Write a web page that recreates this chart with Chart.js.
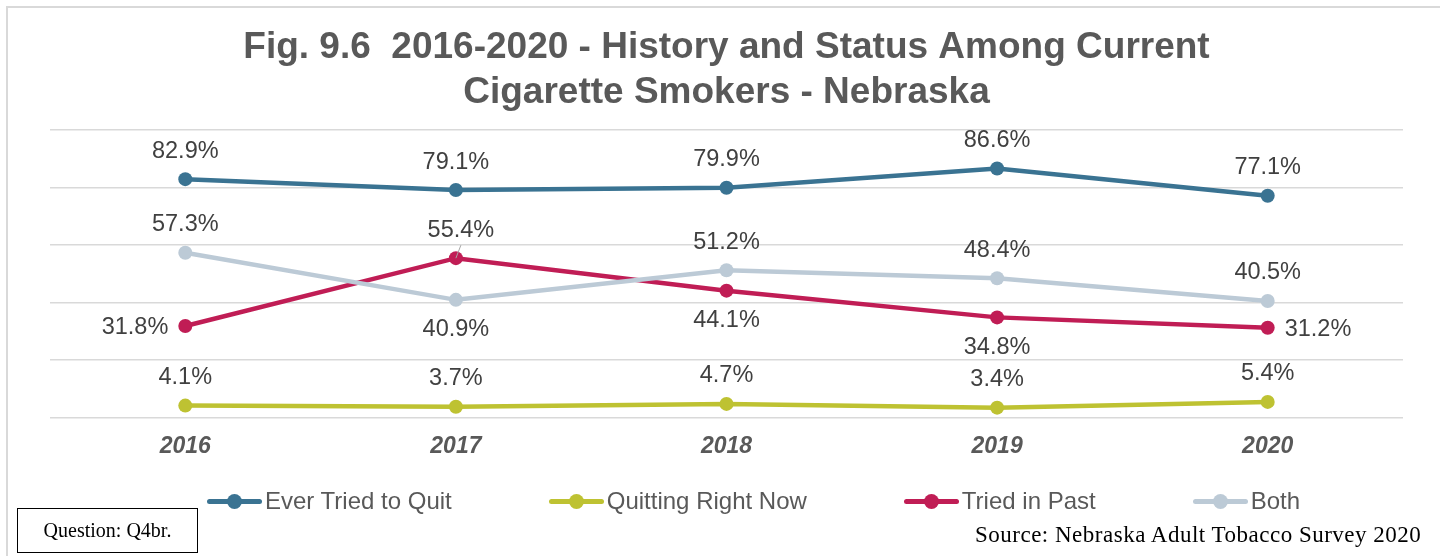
<!DOCTYPE html>
<html>
<head>
<meta charset="utf-8">
<title>Fig. 9.6 2016-2020 - History and Status Among Current Cigarette Smokers - Nebraska</title>
<script src="https://cdn.jsdelivr.net/npm/chart.js@4.4.1/dist/chart.umd.min.js"></script>
<style>
  html, body { margin: 0; padding: 0; background: #ffffff; }
  #wrap { position: relative; width: 1440px; height: 556px; overflow: hidden; }
  #frame { position: absolute; left: 6px; top: 6px; width: 1480px; height: 620px;
           border: 2px solid #d9d9d9; box-sizing: border-box; }
  #chart { position: absolute; left: 0; top: 0; }
  #legend { position: absolute; left: 207px; top: 486px; display: flex; gap: 97px;
            font: 24px "Liberation Sans", Arial, sans-serif; color: #595959; white-space: nowrap; }
  .item { display: flex; align-items: center; height: 30px; }
  .sw { position: relative; width: 55px; height: 30px; margin-right: 3px; }
  .sw .ln { position: absolute; left: 0; right: 0; top: 13px; height: 5px; border-radius: 3px; }
  .sw .dt { position: absolute; left: 20px; top: 8px; width: 15px; height: 15px; border-radius: 50%; }
  #question { position: absolute; left: 17px; top: 508px; width: 181px; height: 45px;
              border: 1.5px solid #000; box-sizing: border-box;
              font: 20px "Liberation Serif", "Times New Roman", serif; color: #000;
              display: flex; align-items: center; justify-content: center; }
  #source { position: absolute; left: 975px; top: 522px; letter-spacing: 0.5px;
            font: 23px "Liberation Serif", "Times New Roman", serif; color: #000; white-space: nowrap; }
</style>
</head>
<body>
<div id="wrap">
  <div id="frame"></div>
  <canvas id="chart" width="1440" height="556"></canvas>
  <div id="legend"></div>
  <div id="question">Question: Q4br.</div>
  <div id="source">Source: Nebraska Adult Tobacco Survey 2020</div>
</div>
<script>
// Survey years on the x axis
const years = ['2016', '2017', '2018', '2019', '2020'];

// Percent of current cigarette smokers, by year
const everTriedToQuit  = [82.9, 79.1, 79.9, 86.6, 77.1];
const quittingRightNow = [4.1, 3.7, 4.7, 3.4, 5.4];
const triedInPast      = [31.8, 55.4, 44.1, 34.8, 31.2];
const bothGroups       = [57.3, 40.9, 51.2, 48.4, 40.5];

// Value axis: 0-100 % with a gridline every 20
const yMin = 0;
const yMax = 100;
const yStep = 20;

const titleLines = ['Fig. 9.6  2016-2020 - History and Status Among Current',
                    'Cigarette Smokers - Nebraska'];

function series(label, data, color, order, labelPos) {
  return {
    label, data, order, labelPos,
    borderColor: color,
    backgroundColor: color,
    pointBackgroundColor: color,
    pointBorderColor: color,
    borderWidth: 4.5,
    pointRadius: 7,
    pointHoverRadius: 7,
    pointBorderWidth: 0,
    tension: 0,
    fill: false
  };
}

// Value labels next to every point: above, below, left, right, or above with a leader line
const valueLabels = {
  id: 'valueLabels',
  afterDatasetsDraw(chart) {
    const ctx = chart.ctx;
    ctx.save();
    ctx.font = '23.5px "Liberation Sans", Arial, sans-serif';
    ctx.fillStyle = '#404040';
    ctx.textBaseline = 'middle';
    chart.data.datasets.forEach((ds, di) => {
      const meta = chart.getDatasetMeta(di);
      meta.data.forEach((pt, i) => {
        const text = ds.data[i].toFixed(1) + '%';
        const pos = ds.labelPos[i];
        let x = pt.x, y = pt.y + 2;
        ctx.textAlign = 'center';
        if (pos === 'above') { y -= 30; }
        else if (pos === 'below') { y += 28; }
        else if (pos === 'left') { ctx.textAlign = 'right'; x -= 17; }
        else if (pos === 'right') { ctx.textAlign = 'left'; x += 17; }
        else if (pos === 'leader') {
          ctx.strokeStyle = '#a6a6a6';
          ctx.lineWidth = 1;
          ctx.beginPath();
          ctx.moveTo(pt.x, pt.y);
          ctx.lineTo(pt.x + 5, pt.y - 13);
          ctx.stroke();
          x += 5; y -= 30;
        }
        ctx.fillText(text, x, y);
      });
    });
    ctx.restore();
  }
};

const chart = new Chart(document.getElementById('chart'), {
  type: 'line',
  data: {
    labels: years,
    datasets: [
      series('Ever Tried to Quit', everTriedToQuit, '#3a7392', 4,
             ['above', 'above', 'above', 'above', 'above']),
      series('Quitting Right Now', quittingRightNow, '#bec232', 3,
             ['above', 'above', 'above', 'above', 'above']),
      series('Tried in Past', triedInPast, '#c01d55', 2,
             ['left', 'leader', 'below', 'below', 'right']),
      series('Both', bothGroups, '#bccad6', 1,
             ['above', 'below', 'above', 'above', 'above'])
    ]
  },
  options: {
    responsive: false,
    animation: false,
    devicePixelRatio: 1,
    layout: { padding: { left: 50, right: 37, top: 0, bottom: 81 } },
    plugins: {
      legend: { display: false },
      tooltip: { enabled: false },
      title: {
        display: true,
        fullSize: false,
        text: titleLines,
        color: '#595959',
        font: { family: '"Liberation Sans", Arial, sans-serif', size: 37, weight: 'bold', lineHeight: 1.22 },
        padding: { top: 25.4, bottom: 14.3 }
      }
    },
    scales: {
      x: {
        type: 'category',
        offset: true,
        grid: { display: false, drawTicks: false },
        border: { display: false },
        ticks: {
          color: '#595959',
          padding: 15,
          font: { family: '"Liberation Sans", Arial, sans-serif', size: 23, weight: 'bold', style: 'italic', lineHeight: 1.2 }
        }
      },
      y: {
        min: yMin,
        max: yMax,
        ticks: { display: false, stepSize: yStep },
        grid: { color: '#d9d9d9', lineWidth: 1.5, drawTicks: false, tickLength: 0 },
        border: { display: false }
      }
    }
  },
  plugins: [valueLabels]
});

// Legend built from the datasets: a short line with a dot, then the series name
const legendEl = document.getElementById('legend');
chart.data.datasets.forEach(ds => {
  const item = document.createElement('div');
  item.className = 'item';
  const sw = document.createElement('span');
  sw.className = 'sw';
  const ln = document.createElement('span');
  ln.className = 'ln';
  ln.style.background = ds.borderColor;
  const dt = document.createElement('span');
  dt.className = 'dt';
  dt.style.background = ds.borderColor;
  sw.appendChild(ln);
  sw.appendChild(dt);
  const txt = document.createElement('span');
  txt.textContent = ds.label;
  item.appendChild(sw);
  item.appendChild(txt);
  legendEl.appendChild(item);
});
</script>
</body>
</html>
